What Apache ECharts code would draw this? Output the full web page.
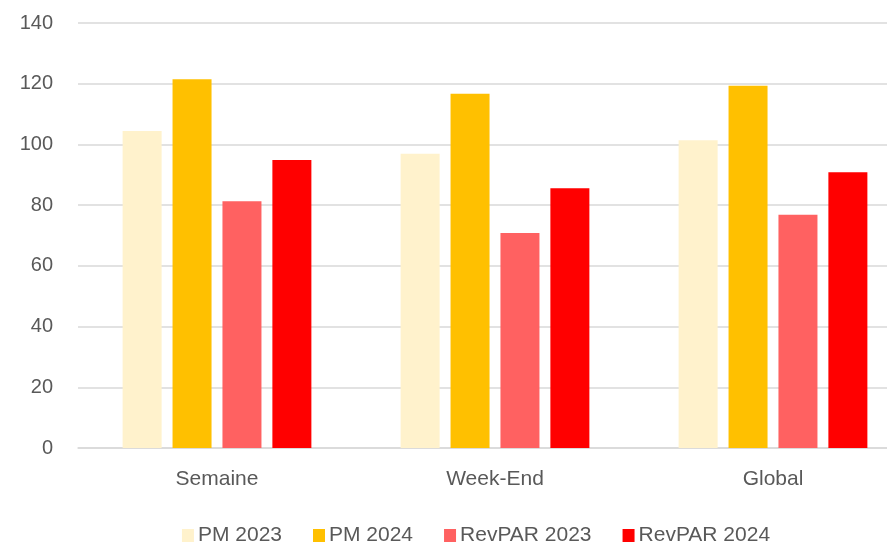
<!DOCTYPE html>
<html><head><meta charset="utf-8">
<script src="https://cdn.jsdelivr.net/npm/echarts@6/dist/echarts.min.js"></script>
<style>html,body{margin:0;padding:0;background:#fff;overflow:hidden}#c{width:952px;height:542px}</style>
</head><body><div id="c"></div>
<script>
const categories = ["Semaine", "Week-End", "Global"];
const seriesNames = ["PM 2023", "PM 2024", "RevPAR 2023", "RevPAR 2024"];
const pm2023 = [104.4, 96.9, 101.4];
const pm2024 = [121.5, 116.7, 119.3];
const revpar2023 = [81.3, 70.8, 76.8];
const revpar2024 = [94.9, 85.6, 90.8];
const yTicks = [0, 20, 40, 60, 80, 100, 120, 140];
const colors = ["#FFF2CC", "#FFC000", "#FF6161", "#FF0000"];
const values = [pm2023, pm2024, revpar2023, revpar2024];

const font = "Liberation Sans";
const chart = echarts.init(document.getElementById('c'), null, {renderer: 'canvas'});
chart.setOption({
  animation: false,
  color: colors,
  grid: {left: 78, top: 23, width: 834, bottom: 94, containLabel: false},
  legend: {
    top: 520, left: 'center',
    itemWidth: 12, itemHeight: 13, itemGap: 31,
    icon: 'rect',
    textStyle: {color: '#595959', fontSize: 21, fontFamily: font, padding: [0,0,0,-1]},
    data: seriesNames
  },
  xAxis: {
    type: 'category', data: categories,
    axisLine: {lineStyle: {color: '#d9d9d9', width: 1.5}},
    axisTick: {show: false},
    axisLabel: {color: '#595959', fontSize: 21, fontFamily: font, margin: 21}
  },
  yAxis: {
    type: 'value', min: yTicks[0], max: yTicks[yTicks.length-1], interval: 20,
    axisLine: {show: false}, axisTick: {show: false},
    splitLine: {lineStyle: {color: '#d9d9d9', width: 1.5}},
    axisLabel: {color: '#595959', fontSize: 20, fontFamily: font, margin: 25}
  },
  series: seriesNames.map((n, i) => ({
    name: n, type: 'bar', data: values[i],
    barWidth: 39, barGap: '28%',
    itemStyle: {color: colors[i]}
  }))
});
</script></body></html>
